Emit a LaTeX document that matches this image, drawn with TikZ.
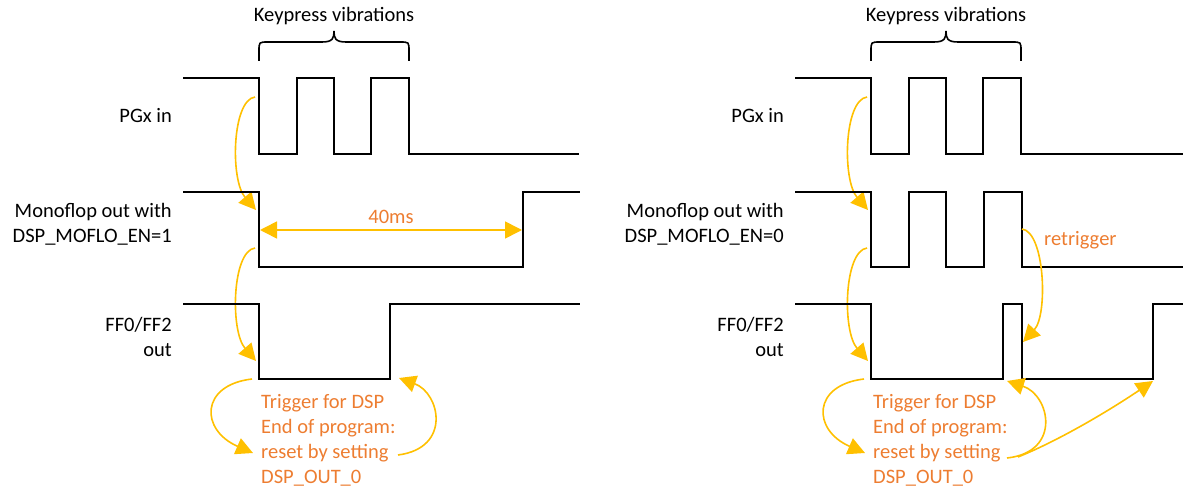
\documentclass[tikz,border=0pt]{standalone}
\usepackage{fontspec}
\setmainfont{Carlito}
\usetikzlibrary{arrows.meta}
\definecolor{trigyellow}{HTML}{FFC000}
\definecolor{noteorange}{HTML}{ED7D31}
\tikzset{
  wave/.style={line width=1.8pt},
  trig/.style={draw=trigyellow, line width=1.6pt, ->},
  sig/.style={anchor=base east, align=right, inner sep=0pt},
  note/.style={text=noteorange, anchor=base west, align=left, inner sep=0pt},
}

\begin{document}
\begin{tikzpicture}[x=1pt, y=-1pt, >={Triangle[length=17pt, width=17pt]}, font=\fontsize{20.5}{25}\selectfont]
  \useasboundingbox (0,0) rectangle (1183,489);

  % 1. common parts of both panels
  \foreach \dx/\en/\xend in {0/1/579, 612/0/571} {
    \begin{scope}[xshift=\dx]
      % heading and brace
      \node[anchor=base] (kp\dx) at (334,22) {Keypress vibrations};
      \draw[wave, line width=1.6pt] (259,61) -- (259,51) .. controls (259,42) .. (268,42) -- (322,42)
        .. controls (333,42) and (334,38) .. (334,31) .. controls (334,38) and (335,42) .. (346,42)
        -- (400,42) .. controls (409,42) .. (409,51) -- (409,61);
      % signal names (base = last line)
      \node[sig] (pgx\dx) at (172,123) {PGx in};
      \node[sig] (mono\dx) at (172,243) {Monoflop out with\\DSP\_MOFLO\_EN=\en};
      \node[sig] (ff\dx) at (172,356) {FF0/FF2\\out};
      % PGx in
      \draw[wave] (183,78) -- (259,78) -- (259,154) -- (297,154) -- (297,78) -- (334,78) -- (334,154)
        -- (371,154) -- (371,78) -- (409,78) -- (409,154) -- (\xend,154);
      % note
      \node[note] (trg\dx) at (261,483) {Trigger for DSP\\End of program:\\reset by setting\\DSP\_OUT\_0};
      % trigger arrows
      \coordinate (p1\dx) at (255,97);
      \coordinate (p2\dx) at (256,210);
      \coordinate (p3\dx) at (255,248);
      \coordinate (p4\dx) at (256,361);
      \coordinate (p5\dx) at (252,379);
      \coordinate (p6\dx) at (253,453);
      \draw[trig] (p1\dx) .. controls (232,100) and (230,180) .. (p2\dx);
      \draw[trig] (p3\dx) .. controls (232,251) and (230,331) .. (p4\dx);
      \draw[trig] (p5\dx) .. controls (200,385) and (200,430) .. (p6\dx);
    \end{scope}
  }

  % 2. left panel
  \draw[wave] (183,192) -- (259,192) -- (259,267) -- (523,267) -- (523,192) -- (580,192);
  \draw[wave] (183,304) -- (259,304) -- (259,379) -- (390,379) -- (390,304) -- (580,304);
  \coordinate (w0) at (260,230);
  \coordinate (w1) at (522,230);
  \draw[trig, <->] (w0) -- (w1);
  \node[text=noteorange, anchor=base] (ms) at (391,223) {40ms};
  \coordinate (e0) at (398,455);
  \coordinate (e1) at (399,378);
  \draw[trig] (e0) .. controls (452,448) and (440,393) .. (e1);

  % 3. right panel
  \draw[wave] (795,192) -- (871,192) -- (871,267) -- (909,267) -- (909,192) -- (946,192) -- (946,267)
    -- (984,267) -- (984,192) -- (1022,192) -- (1022,267) -- (1183,267);
  \draw[wave] (795,304) -- (871,304) -- (871,379) -- (1003,379) -- (1003,304) -- (1022,304) -- (1022,379)
    -- (1153,379) -- (1153,304) -- (1183,304);
  \node[text=noteorange, anchor=base west, inner sep=0pt] (rt) at (1044,245) {retrigger};
  \coordinate (r0) at (1022,229);
  \coordinate (r1) at (1023,342);
  \draw[trig] (r0) .. controls (1045,232) and (1048,315) .. (r1);
  \coordinate (e2) at (1007,458);
  \coordinate (e3) at (1007,381);
  \coordinate (e4) at (1018,457);
  \coordinate (e5) at (1153,381);
  \draw[trig] (e2) .. controls (1062,452) and (1050,395) .. (e3);
  \draw[trig] (e4) .. controls (1060,440) and (1110,410) .. (e5);
\end{tikzpicture}
\end{document}
